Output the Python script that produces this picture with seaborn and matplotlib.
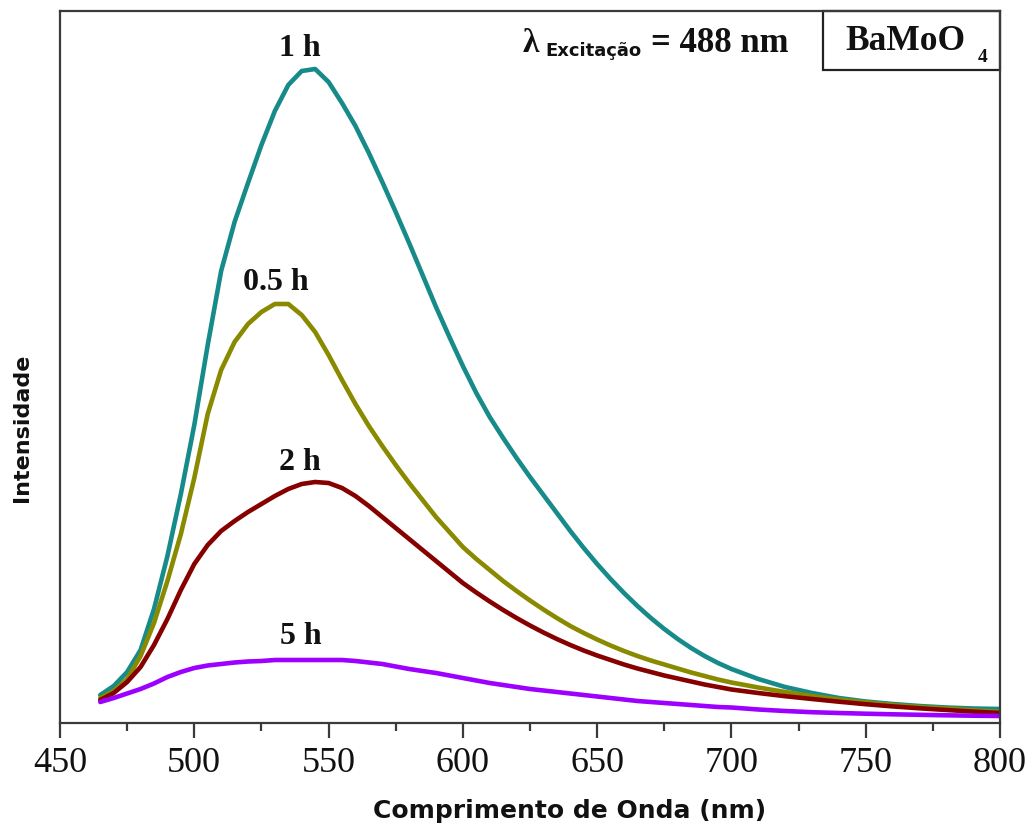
import matplotlib
matplotlib.use("Agg")
import matplotlib.pyplot as plt
import pandas as pd
import seaborn as sns
from matplotlib.ticker import MultipleLocator, NullLocator
from matplotlib.patches import Rectangle

# Photoluminescence emission spectra of BaMoO4 (excitation at 488 nm)
wavelength = [465, 470, 475, 480, 485, 490, 495, 500, 505, 510,
              515, 520, 525, 530, 535, 540, 545, 550, 555, 560,
              565, 570, 575, 580, 585, 590, 595, 600, 605, 610,
              615, 620, 625, 630, 635, 640, 645, 650, 655, 660,
              665, 670, 675, 680, 685, 690, 695, 700,
              710, 720, 730, 740, 750, 760, 770, 780, 790, 800]

intensity_1h = [28, 37, 51, 73, 114, 167, 229, 298, 378, 452,
                501, 540, 578, 612, 638, 652, 654, 641, 620, 597,
                570, 541, 511, 480, 448, 416, 386, 357, 330, 306,
                285, 265, 246, 228, 210, 192, 175, 159, 144, 130,
                117, 105, 94, 84, 75, 67, 60, 54,
                44, 36, 30, 25, 21.5, 19, 17, 15.5, 14.5, 14]

intensity_05h = [25, 32, 44, 67, 100, 142, 189, 245, 309, 353,
                 381, 399, 411, 419, 419, 408, 391, 368, 343, 319,
                 297, 277, 258, 240, 223, 206, 191, 176, 164, 153,
                 142, 132, 122.5, 113.5, 105, 97, 90, 83.5, 77.5, 72,
                 67, 62.5, 58.5, 54.5, 50.5, 47, 43.5, 40.5,
                 35.5, 31, 27, 23.5, 20.5, 18, 16, 14.5, 12.7, 11]

intensity_2h = [23, 30, 41, 56, 78, 104, 133, 159, 178, 192,
                202, 211, 219, 227, 234, 239, 241, 240, 235, 227,
                217, 206, 195, 184, 173, 162, 151, 140, 130.5, 121.5,
                113, 105, 97.5, 90.5, 84, 78, 72.5, 67.5, 63, 58.5,
                54.5, 51, 47.5, 44.5, 41.5, 38.5, 36, 33.5,
                30, 26.8, 24, 21.3, 18.8, 16.6, 14.7, 13, 11.4, 10]

intensity_5h = [21, 25, 29.5, 34, 39.5, 46, 51, 55, 57.5, 59,
                60.5, 61.5, 62, 63, 63, 63, 63, 63, 63, 62,
                60.5, 59, 56.5, 54, 52, 50, 47.5, 45, 42.5, 40,
                38, 36, 34, 32.5, 31, 29.5, 28, 26.5, 25, 23.5,
                22, 21, 20, 19, 18, 17, 16, 15.5,
                13.5, 12, 10.8, 10, 9.3, 8.7, 8.2, 7.7, 7.3, 7]

series_names = ["1 h", "0.5 h", "2 h", "5 h"]
series_values = [intensity_1h, intensity_05h, intensity_2h, intensity_5h]
series_colors = ["#178a8a", "#8a8a00", "#870000", "#9d00ff"]

# label anchor for each curve (wavelength, intensity)
label_x = [539.4, 530.4, 539.4, 539.8]
label_y = [675, 440, 260, 86]

frames = [pd.DataFrame({"wavelength": wavelength, "intensity": vals, "tempo": name})
          for name, vals in zip(series_names, series_values)]
df = pd.concat(frames, ignore_index=True)

sns.set_theme(style="white")
plt.rcParams["font.family"] = ["DejaVu Sans"]

W, H = 1034, 832
fig = plt.figure(figsize=(W / 100, H / 100), dpi=100)
ax = fig.add_axes([60 / W, 1 - 723 / H, 940 / W, 712 / H])

sns.lineplot(data=df, x="wavelength", y="intensity", hue="tempo",
             hue_order=series_names, palette=dict(zip(series_names, series_colors)),
             linewidth=3.3, legend=False, sort=False, ax=ax)
for ln in ax.get_lines():
    ln.set_solid_joinstyle("round")
    ln.set_solid_capstyle("round")

ax.set_xlim(450, 800)
ax.set_ylim(0, 712)

for sp in ax.spines.values():
    sp.set_color("#3a3a3a")
    sp.set_linewidth(1.6)

ax.xaxis.set_major_locator(MultipleLocator(50))
ax.xaxis.set_minor_locator(MultipleLocator(25))
ax.yaxis.set_major_locator(NullLocator())
ax.tick_params(axis="x", which="major", direction="out", length=11, width=1.6,
               color="#3a3a3a", bottom=True, top=False, pad=6,
               labelsize=26, labelcolor="#111111")
ax.tick_params(axis="x", which="minor", direction="out", length=6, width=1.6,
               color="#3a3a3a", bottom=True, top=False)
for lab in ax.get_xticklabels():
    lab.set_family("Liberation Serif")


def fx(px):
    return (px - 60) / 940


def fy(py):
    return (723 - py) / 712


ax.set_xlabel("Comprimento de Onda (nm)", fontsize=18, fontweight="bold",
              color="#111111")
ax.xaxis.set_label_coords(fx(570), fy(811))
ax.set_ylabel("Intensidade", fontsize=16, fontweight="bold", color="#111111")
ax.yaxis.set_label_coords(fx(22), fy(428))
ax.yaxis.label.set_va("center")
ax.xaxis.label.set_va("center")

for name, lx, ly in zip(series_names, label_x, label_y):
    ax.text(lx, ly, name, ha="center", va="center", fontsize=23,
            fontweight="bold", family="Liberation Serif", color="#111111")

# excitation wavelength note and sample box
tr = ax.transAxes
ax.text(fx(531), fy(44), "λ", transform=tr, ha="center", va="center",
        fontsize=24, fontweight="bold", family="Liberation Serif", color="#111111")
ax.text(fx(545), fy(51), "Excitação", transform=tr, ha="left", va="center",
        fontsize=13, fontweight="bold", family="DejaVu Sans", color="#111111")
ax.text(fx(651), fy(43), "= 488 nm", transform=tr, ha="left", va="center",
        fontsize=25, fontweight="bold", family="Liberation Serif", color="#111111")

ax.add_patch(Rectangle((fx(823), fy(70)), 1 - fx(823), 1 - fy(70), transform=tr,
                       fill=False, edgecolor="#222222", linewidth=1.6, clip_on=False))
ax.text(fx(845), fy(41), "BaMoO", transform=tr, ha="left", va="center",
        fontsize=25.5, fontweight="bold", family="Liberation Serif", color="#111111")
ax.text(fx(983), fy(57), "4", transform=tr, ha="center", va="center",
        fontsize=14, fontweight="bold", family="Liberation Serif", color="#111111")

fig.savefig("out.png", dpi=100, facecolor="white")
